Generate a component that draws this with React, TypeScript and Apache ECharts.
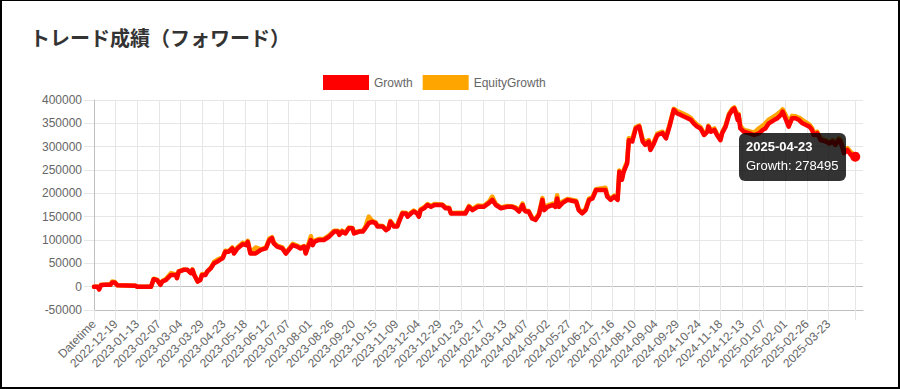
import React, { useEffect, useRef } from "react";
import * as echarts from "echarts";

const titleText = "トレード成績（フォワード）";
const seriesNames = ["Growth", "EquityGrowth"];
const tickStep = 25;
const tickLabels = [
  "Datetime", "2022-12-19", "2023-01-13", "2023-02-07", "2023-03-04", "2023-03-29",
  "2023-04-23", "2023-05-18", "2023-06-12", "2023-07-07", "2023-08-01", "2023-08-26",
  "2023-09-20", "2023-10-15", "2023-11-09", "2023-12-04", "2023-12-29", "2024-01-23",
  "2024-02-17", "2024-03-13", "2024-04-07", "2024-05-02", "2024-05-27", "2024-06-21",
  "2024-07-16", "2024-08-10", "2024-09-04", "2024-09-29", "2024-10-24", "2024-11-18",
  "2024-12-13", "2025-01-07", "2025-02-01", "2025-02-26", "2025-03-23",
];
const lastDate = "2025-04-23";

const xIndex = [
  0, 4, 6, 8, 12, 19, 21, 24, 27, 48, 50, 66, 69, 73, 77, 79, 83, 89, 95, 96,
  98, 104, 108, 112, 114, 116, 120, 123, 125, 129, 131, 135, 139, 143, 149, 152, 156, 160, 162, 166,
  172, 176, 178, 181, 187, 193, 199, 203, 206, 208, 212, 218, 222, 226, 230, 235, 239, 243, 245, 247,
  251, 253, 255, 260, 266, 272, 278, 282, 284, 287, 291, 295, 299, 301, 307, 311, 314, 318, 322, 326,
  328, 334, 338, 341, 343, 347, 351, 353, 357, 361, 363, 367, 370, 374, 376, 378, 382, 386, 390, 394,
  403, 407, 411, 413, 430, 434, 438, 444, 451, 457, 461, 465, 471, 478, 484, 488, 492, 496, 498, 500,
  503, 507, 511, 515, 519, 521, 525, 531, 534, 536, 538, 542, 548, 558, 561, 565, 569, 573, 577, 581,
  592, 594, 598, 602, 606, 608, 611, 613, 617, 619, 623, 627, 631, 635, 638, 642, 644, 648, 652, 658,
  662, 666, 671, 675, 679, 687, 691, 694, 698, 702, 706, 710, 711, 714, 718, 721, 725, 727, 731, 735,
  739, 741, 743, 745, 746, 748, 752, 758, 764, 770, 774, 777, 781, 787, 791, 795, 797, 801, 804, 808,
  812, 816, 820, 828, 831, 833, 837, 841, 847, 851, 855, 858, 862, 864, 868, 872, 876, 881,
];

const growth = [
  0, 0, -6000, 3000, 4000, 4000, 9000, 9000, 3000, 2000, 0, 0, 16000, 14000, 4000, 11000, 14000, 25000, 25000, 18000,
  32000, 36000, 36000, 29000, 36000, 25000, 11000, 14000, 25000, 25000, 32000, 39000, 50000, 54000, 61000, 75000, 75000, 82000, 71000, 82000,
  91000, 89000, 96000, 71000, 71000, 79000, 82000, 100000, 104000, 93000, 86000, 82000, 71000, 80000, 89000, 86000, 82000, 86000, 71000, 82000,
  100000, 89000, 96000, 100000, 100000, 107000, 118000, 118000, 111000, 118000, 114000, 125000, 125000, 114000, 118000, 118000, 125000, 136000, 139000, 136000,
  129000, 129000, 121000, 125000, 139000, 129000, 129000, 139000, 157000, 157000, 150000, 157000, 161000, 157000, 150000, 164000, 168000, 175000, 171000, 175000,
  175000, 168000, 168000, 157000, 157000, 171000, 164000, 171000, 171000, 179000, 186000, 175000, 168000, 171000, 171000, 168000, 161000, 175000, 164000, 161000,
  161000, 146000, 143000, 154000, 186000, 164000, 171000, 175000, 171000, 189000, 171000, 179000, 186000, 182000, 164000, 157000, 164000, 186000, 189000, 207000,
  207000, 193000, 186000, 193000, 186000, 246000, 229000, 246000, 264000, 314000, 311000, 339000, 343000, 311000, 304000, 311000, 293000, 307000, 325000, 329000,
  318000, 343000, 379000, 371000, 368000, 361000, 357000, 350000, 343000, 339000, 325000, 332000, 343000, 332000, 336000, 325000, 314000, 329000, 343000, 368000,
  379000, 382000, 371000, 357000, 368000, 339000, 332000, 329000, 325000, 329000, 336000, 339000, 350000, 357000, 361000, 368000, 375000, 357000, 343000, 361000,
  361000, 357000, 350000, 343000, 336000, 325000, 329000, 314000, 311000, 307000, 311000, 304000, 314000, 311000, 286000, 293000, 282000, 278495,
];

const equity = [
  0, 0, -5000, 4000, 4000, 5000, 11000, 10000, 3000, 2000, 0, 0, 17000, 15000, 5000, 12000, 16000, 29000, 26000, 19000,
  33000, 37000, 36000, 30000, 37000, 26000, 11000, 15000, 27000, 26000, 33000, 40000, 53000, 58000, 63000, 77000, 76000, 84000, 73000, 84000,
  94000, 92000, 98000, 72000, 84000, 80000, 84000, 103000, 106000, 95000, 88000, 84000, 73000, 82000, 92000, 88000, 84000, 87000, 73000, 84000,
  108000, 92000, 98000, 102000, 102000, 110000, 120000, 120000, 113000, 120000, 116000, 127000, 126000, 116000, 119000, 120000, 128000, 150000, 141000, 138000,
  131000, 130000, 123000, 127000, 141000, 131000, 130000, 142000, 159000, 158000, 152000, 159000, 163000, 158000, 151000, 166000, 170000, 177000, 173000, 177000,
  176000, 170000, 169000, 158000, 159000, 173000, 166000, 174000, 173000, 182000, 193000, 177000, 170000, 173000, 172000, 170000, 163000, 178000, 166000, 163000,
  162000, 148000, 145000, 157000, 190000, 167000, 174000, 178000, 174000, 196000, 175000, 182000, 188000, 184000, 166000, 159000, 167000, 189000, 192000, 209000,
  212000, 196000, 188000, 195000, 189000, 249000, 233000, 250000, 268000, 318000, 316000, 342000, 345000, 316000, 309000, 314000, 297000, 311000, 328000, 332000,
  322000, 346000, 381000, 376000, 373000, 366000, 361000, 354000, 347000, 342000, 328000, 335000, 345000, 335000, 339000, 327000, 316000, 331000, 346000, 371000,
  382000, 384000, 375000, 368000, 370000, 345000, 336000, 333000, 330000, 340000, 345000, 350000, 358000, 365000, 370000, 376000, 380000, 366000, 352000, 366000,
  365000, 362000, 357000, 347000, 340000, 330000, 332000, 318000, 314000, 310000, 314000, 307000, 318000, 315000, 292000, 297000, 288000, 282000,
];

const yMin = -50000;
const yMax = 400000;
const yStep = 50000;
const xMax = 890;

export default function App() {
  const ref = useRef<HTMLDivElement>(null);

  useEffect(() => {
    if (!ref.current) return;
    const chart = echarts.init(ref.current, null, { renderer: "svg" });
    const last = xIndex.length - 1;
    const labelValues = tickLabels.map((_, i) => i * tickStep);
    const tickValues = [...labelValues, xIndex[last]];
    const font = "'Liberation Sans', Arial, Helvetica, sans-serif";
    const gridColor = "#e6e6e6";
    const zeroColor = "#bfbfbf";
    const ySplitColors: string[] = [];
    for (let v = yMin; v <= yMax; v += yStep) ySplitColors.push(v === 0 ? zeroColor : gridColor);

    const option: any = {
      animation: false,
      backgroundColor: "#fff",
      textStyle: { fontFamily: font },
      title: {
        text: titleText,
        left: 30,
        top: 27,
        padding: 0,
        textStyle: {
          fontFamily: "'Noto Sans CJK JP', sans-serif",
          fontSize: 20,
          fontWeight: "bold",
          color: "#333",
        },
      },
      legend: {
        data: seriesNames,
        left: 323,
        top: 75,
        padding: 0,
        icon: "rect",
        itemWidth: 46,
        itemHeight: 15,
        itemGap: 10,
        textStyle: { fontSize: 12, color: "#666", fontFamily: font },
      },
      grid: { left: 94, right: 37, top: 100, bottom: 79, containLabel: false },
      tooltip: {
        trigger: "item",
        alwaysShowContent: true,
        showDelay: 0,
        transitionDuration: 0,
        backgroundColor: "rgba(0,0,0,0.8)",
        borderWidth: 0,
        padding: [5, 7],
        extraCssText: "border-radius:6px;box-shadow:none;",
        position: (point: number[], _p: any, _d: any, _r: any, size: any) => [
          point[0] - size.contentSize[0] - 9,
          point[1] - size.contentSize[1] / 2,
        ],
        formatter: (p: any) => {
          const v = Array.isArray(p.value) ? p.value[1] : p.value;
          const d = p.dataIndex === last ? lastDate : tickLabels[Math.round(xIndex[p.dataIndex] / tickStep)] || "";
          return (
            `<div style="font:bold 13px ${font};line-height:18px;color:#fff;">${d}</div>` +
            `<div style="font:13px ${font};line-height:20px;color:#fff;">${p.seriesName}: ${v}</div>`
          );
        },
      },
      xAxis: {
        type: "value",
        min: 0,
        max: xMax,
        axisLine: { show: true, onZero: false, lineStyle: { color: zeroColor, width: 1 } },
        axisTick: { show: true, length: 10, customValues: tickValues, lineStyle: { color: gridColor } },
        splitLine: { show: true, lineStyle: { color: gridColor, width: 1 } },
        axisLabel: {
          customValues: labelValues,
          rotate: 45,
          margin: 12,
          fontSize: 12,
          color: "#666",
          fontFamily: font,
          showMinLabel: true,
          showMaxLabel: true,
          formatter: (v: number) => tickLabels[Math.round(v / tickStep)] ?? "",
        },
      },
      yAxis: {
        type: "value",
        min: yMin,
        max: yMax,
        interval: yStep,
        axisLine: { show: true, lineStyle: { color: zeroColor, width: 1 } },
        axisTick: { show: true, length: 10, lineStyle: { color: gridColor } },
        splitLine: { show: true, lineStyle: { color: ySplitColors, width: 1 } },
        axisLabel: {
          margin: 12,
          fontSize: 12,
          color: "#666",
          fontFamily: font,
          formatter: (v: number) => String(v),
        },
      },
      series: [
        {
          name: seriesNames[1],
          type: "line",
          data: xIndex.map((x, i) => [x, equity[i]]),
          showSymbol: false,
          color: "#ffa500",
          lineStyle: { width: 4.5, color: "#ffa500", cap: "round", join: "round" },
          emphasis: { disabled: true },
          z: 2,
        },
        {
          name: seriesNames[0],
          type: "line",
          data: xIndex.map((x, i) => [x, growth[i]]),
          showSymbol: true,
          showAllSymbol: true,
          symbol: (_v: any, p: any) => (p.dataIndex === last ? "circle" : "none"),
          symbolSize: 10,
          itemStyle: { color: "#ff0000" },
          color: "#ff0000",
          lineStyle: { width: 4.5, color: "#ff0000", cap: "round", join: "round" },
          emphasis: { disabled: true },
          z: 3,
        },
      ],
    };
    chart.setOption(option);
    chart.dispatchAction({ type: "showTip", seriesIndex: 1, dataIndex: last });
    return () => chart.dispose();
  }, []);

  return (
    <>
      <style>{"html,body{margin:0;padding:0;background:#fff;}"}</style>
      <div style={{ position: "relative", width: 900, height: 389 }}>
        <div ref={ref} style={{ position: "absolute", left: 0, top: 0, width: 900, height: 389 }} />
        <div
          style={{
            position: "absolute",
            left: 0,
            top: 0,
            width: 900,
            height: 389,
            boxSizing: "border-box",
            borderStyle: "solid",
            borderColor: "#000",
            borderWidth: "1px 2px 2px 2px",
            pointerEvents: "none",
          }}
        />
      </div>
    </>
  );
}
